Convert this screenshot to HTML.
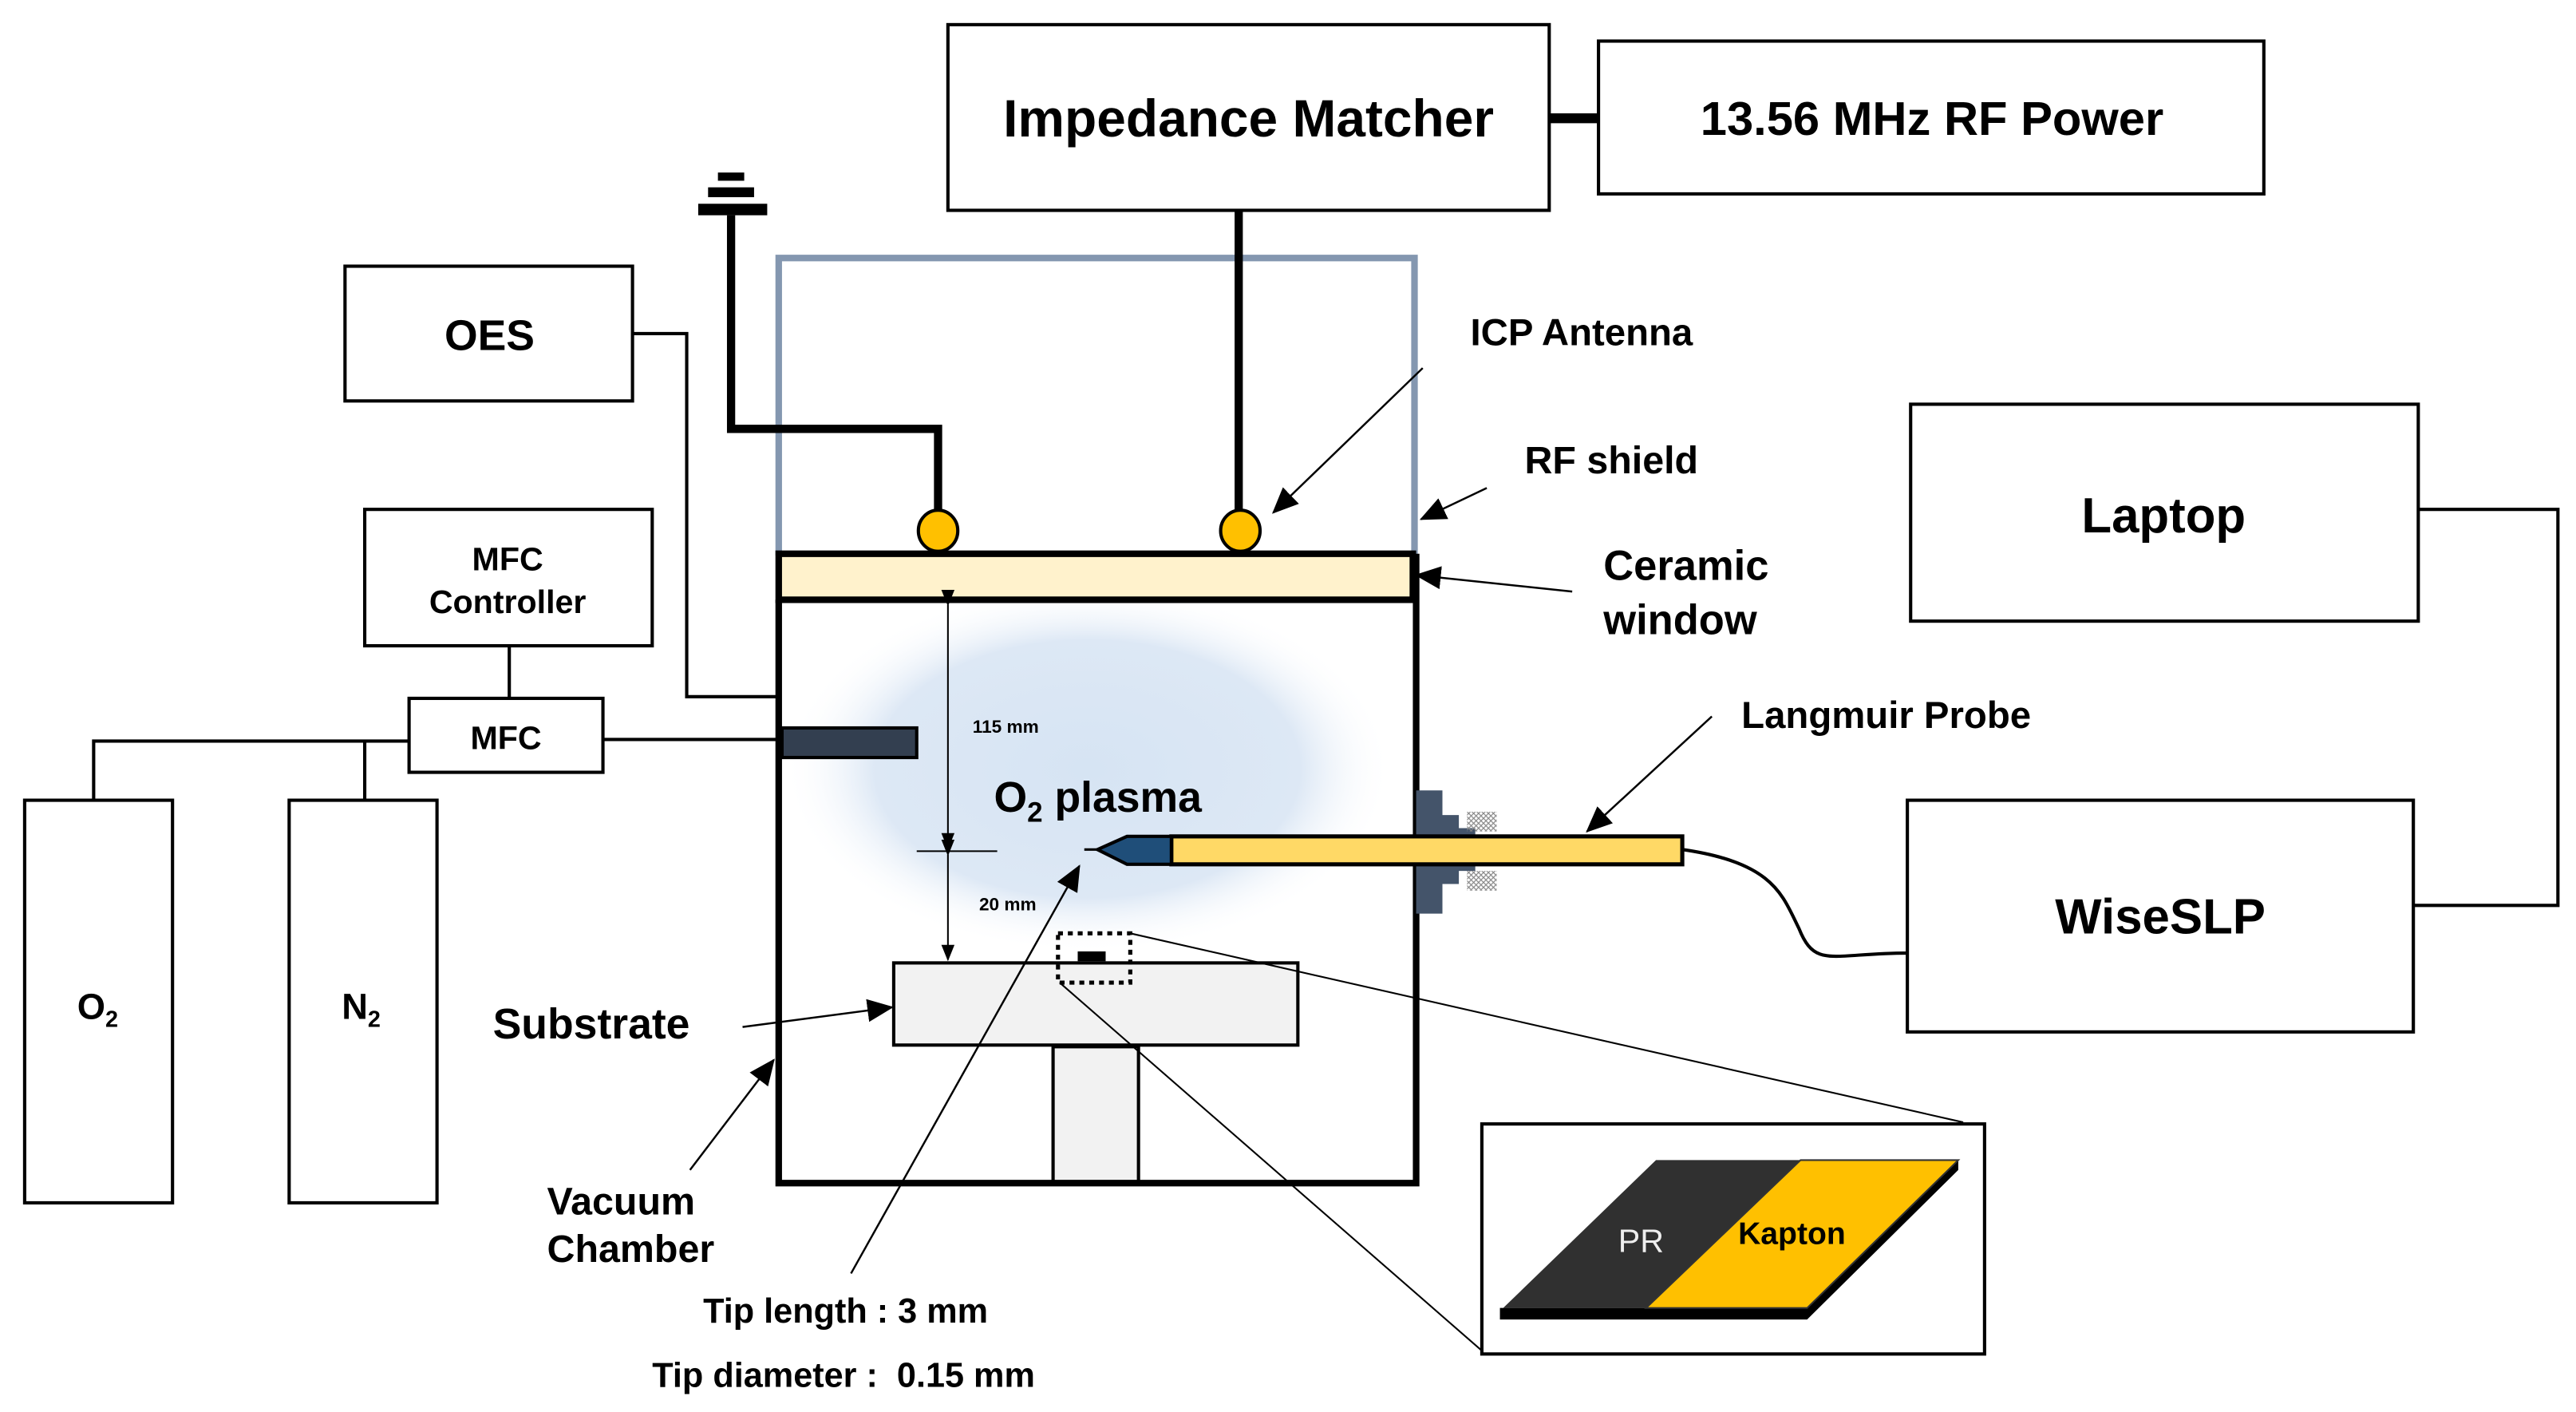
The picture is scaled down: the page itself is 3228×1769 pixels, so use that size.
<!DOCTYPE html>
<html><head><meta charset="utf-8"><style>
html,body{margin:0;padding:0;background:#fff;}
svg{display:block;}
text{font-family:"Liberation Sans",Arial,sans-serif;font-weight:bold;fill:#000;}
</style></head><body>
<svg width="3228" height="1769" viewBox="0 0 1568 859.3" xmlns="http://www.w3.org/2000/svg">
<defs>
<radialGradient id="pl" cx="0.5" cy="0.5" r="0.5">
<stop offset="0" stop-color="#d6e4f3"/><stop offset="0.7" stop-color="#dde8f5"/><stop offset="1" stop-color="#fff" stop-opacity="0"/>
</radialGradient>
<marker id="ah" markerWidth="10" markerHeight="10" refX="9" refY="5" orient="auto" markerUnits="userSpaceOnUse">
<path d="M0,1 L10,5 L0,9 z" fill="#000"/></marker>
<marker id="ah2" markerWidth="16" markerHeight="14" refX="15" refY="7" orient="auto" markerUnits="userSpaceOnUse">
<path d="M0,0 L16,7 L0,14 z" fill="#000"/></marker>
<pattern id="hatch" width="3" height="3" patternUnits="userSpaceOnUse"><path d="M0,0L3,3M3,0L0,3" stroke="#888" stroke-width="0.6"/></pattern>
</defs>
<!-- plasma -->
<ellipse cx="662" cy="468" rx="185" ry="112" fill="url(#pl)"/>
<!-- top boxes -->
<rect x="577" y="15" width="366" height="113" fill="#fff" stroke="#000" stroke-width="2"/>
<text x="760" y="83" font-size="32" text-anchor="middle">Impedance Matcher</text>
<rect x="973" y="25" width="405" height="93" fill="#fff" stroke="#000" stroke-width="2"/>
<text x="1176" y="82" font-size="29" text-anchor="middle">13.56 MHz RF Power</text>
<line x1="943" y1="72" x2="973" y2="72" stroke="#000" stroke-width="6"/>
<!-- RF shield -->
<path d="M474,338 V157 H861 V338" fill="none" stroke="#8497b0" stroke-width="4"/>
<!-- ground -->
<rect x="437" y="105" width="16" height="5" fill="#000"/>
<rect x="431" y="114" width="28" height="6" fill="#000"/>
<rect x="425" y="124" width="42" height="7" fill="#000"/>
<path d="M445,131 V261 H571 V322" fill="none" stroke="#000" stroke-width="5"/>
<line x1="754" y1="128" x2="754" y2="322" stroke="#000" stroke-width="5"/>
<ellipse cx="571" cy="323" rx="12" ry="12.5" fill="#ffc000" stroke="#000" stroke-width="2"/>
<ellipse cx="755" cy="323" rx="12" ry="12.5" fill="#ffc000" stroke="#000" stroke-width="2"/>
<!-- ceramic / chamber -->
<rect x="474" y="337" width="386" height="28" fill="#fff2cc" stroke="#000" stroke-width="4"/>
<path d="M474,365 V720 H862 V337" fill="none" stroke="#000" stroke-width="4"/>
<!-- left side -->
<rect x="210" y="162" width="175" height="82" fill="#fff" stroke="#000" stroke-width="2"/>
<text x="298" y="213" font-size="26" text-anchor="middle">OES</text>
<path d="M385,203 H418 V424 H473" fill="none" stroke="#000" stroke-width="2"/>
<rect x="222" y="310" width="175" height="83" fill="#fff" stroke="#000" stroke-width="2"/>
<text x="309" y="347" font-size="20" text-anchor="middle">MFC</text>
<text x="309" y="373" font-size="20" text-anchor="middle">Controller</text>
<line x1="310" y1="393" x2="310" y2="425" stroke="#000" stroke-width="2"/>
<rect x="249" y="425" width="118" height="45" fill="#fff" stroke="#000" stroke-width="2"/>
<text x="308" y="456" font-size="20" text-anchor="middle">MFC</text>
<line x1="367" y1="450" x2="474" y2="450" stroke="#000" stroke-width="2"/>
<rect x="476" y="443" width="82" height="18" fill="#333f50" stroke="#000" stroke-width="2"/>
<path d="M57,487 V451 H249 M222,451 V487" fill="none" stroke="#000" stroke-width="2"/>
<rect x="15" y="487" width="90" height="245" fill="#fff" stroke="#000" stroke-width="2"/>
<text x="47" y="620" font-size="22">O<tspan font-size="14" dy="5">2</tspan></text>
<rect x="176" y="487" width="90" height="245" fill="#fff" stroke="#000" stroke-width="2"/>
<text x="208" y="620" font-size="22">N<tspan font-size="14" dy="5">2</tspan></text>
<!-- right side -->
<rect x="1163" y="246" width="309" height="132" fill="#fff" stroke="#000" stroke-width="2"/>
<text x="1317" y="324" font-size="30" text-anchor="middle">Laptop</text>
<rect x="1161" y="487" width="308" height="141" fill="#fff" stroke="#000" stroke-width="2"/>
<text x="1315" y="568" font-size="30" text-anchor="middle">WiseSLP</text>
<path d="M1472,310 H1557 V551 H1469" fill="none" stroke="#000" stroke-width="2"/>
<!-- probe -->
<path d="M862,481 H878 V496 H888 V504 H898 V530 H888 V538 H878 V556 H862 Z" fill="#44546a"/>
<rect x="893" y="494" width="18" height="12" fill="url(#hatch)"/>
<rect x="893" y="530" width="18" height="12" fill="url(#hatch)"/>
<rect x="713" y="509" width="311" height="17" fill="#ffd966" stroke="#000" stroke-width="2.5"/>
<path d="M668,517 L686,509 H713 V526 H686 Z" fill="#1f4e79" stroke="#000" stroke-width="2"/>
<line x1="660" y1="517" x2="670" y2="517" stroke="#000" stroke-width="1.5"/>
<path d="M1024,517 C1080,525 1085,545 1095,565 C1105,590 1115,580 1161,580" fill="none" stroke="#000" stroke-width="2"/>
<!-- dimensions -->
<line x1="577" y1="368" x2="577" y2="516" stroke="#000" stroke-width="1" marker-start="url(#ah)" marker-end="url(#ah)"/>
<line x1="577" y1="520" x2="577" y2="584" stroke="#000" stroke-width="1" marker-start="url(#ah)" marker-end="url(#ah)"/>
<line x1="558" y1="518" x2="607" y2="518" stroke="#000" stroke-width="1"/>
<text x="592" y="446" font-size="11">115 mm</text>
<text x="596" y="554" font-size="11">20 mm</text>
<text x="605" y="494" font-size="26">O<tspan font-size="17" dy="6">2</tspan><tspan dy="-6"> plasma</tspan></text>
<!-- substrate -->
<rect x="544" y="586" width="246" height="50" fill="#f2f2f2" stroke="#000" stroke-width="2"/>
<rect x="641" y="637" width="52" height="82" fill="#f2f2f2" stroke="#000" stroke-width="2"/>
<rect x="656" y="579" width="17" height="6" fill="#000"/>
<rect x="644" y="568" width="44" height="30" fill="none" stroke="#000" stroke-width="2.5" stroke-dasharray="3,3"/>
<line x1="688" y1="568" x2="1195" y2="683" stroke="#000" stroke-width="1"/>
<line x1="645" y1="598" x2="902" y2="822" stroke="#000" stroke-width="1"/>
<!-- inset -->
<rect x="902" y="684" width="306" height="140" fill="#fff" stroke="#000" stroke-width="2"/>
<path d="M913,796 H1100 L1192,706 L1192,712 L1100,803 H913 Z" fill="#000"/>
<path d="M915,796 L1008,706 H1096 L1002,796 Z" fill="#303030"/>
<path d="M1002,796 L1096,706 H1192 L1100,796 Z" fill="#ffc000" stroke="#333" stroke-width="1"/>
<text x="985" y="762" font-size="20" style="font-weight:normal;fill:#eee">PR</text>
<text x="1058" y="757" font-size="19">Kapton</text>
<!-- labels & arrows -->
<text x="895" y="210" font-size="23">ICP Antenna</text>
<line x1="866" y1="224" x2="775" y2="312" stroke="#000" stroke-width="1.2" marker-end="url(#ah2)"/>
<text x="928" y="288" font-size="23.5">RF shield</text>
<line x1="905" y1="297" x2="865" y2="316" stroke="#000" stroke-width="1.2" marker-end="url(#ah2)"/>
<text x="976" y="353" font-size="25.5">Ceramic</text>
<text x="976" y="386" font-size="25.5">window</text>
<line x1="957" y1="360" x2="862" y2="350" stroke="#000" stroke-width="1.2" marker-end="url(#ah2)"/>
<text x="1060" y="443" font-size="23">Langmuir Probe</text>
<line x1="1042" y1="436" x2="966" y2="506" stroke="#000" stroke-width="1.2" marker-end="url(#ah2)"/>
<text x="300" y="632" font-size="26">Substrate</text>
<line x1="452" y1="625" x2="543" y2="613" stroke="#000" stroke-width="1.2" marker-end="url(#ah2)"/>
<text x="333" y="739" font-size="23.5">Vacuum</text>
<text x="333" y="768" font-size="23.5">Chamber</text>
<line x1="420" y1="712" x2="471" y2="645" stroke="#000" stroke-width="1.2" marker-end="url(#ah2)"/>
<line x1="518" y1="775" x2="657" y2="527" stroke="#000" stroke-width="1.2" marker-end="url(#ah2)"/>
<text x="428" y="805" font-size="21">Tip length : 3 mm</text>
<text x="397" y="844" font-size="21">Tip diameter :&#160;&#160;0.15 mm</text>
</svg>
</body></html>
